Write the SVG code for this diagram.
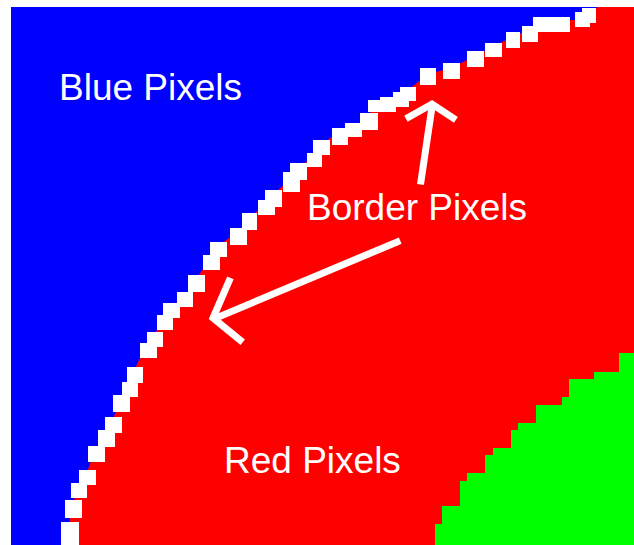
<svg xmlns="http://www.w3.org/2000/svg" width="634" height="545" viewBox="0 0 634 545">
<style>
.lbl{font-family:"Liberation Sans",Arial,sans-serif;font-size:37px;fill:#fff}
.px{fill:#fff}
.arr{stroke:#fff;stroke-width:7;fill:none;stroke-linecap:square;stroke-linejoin:miter}
</style>
<rect width="634" height="545" fill="#fff"/>
<g id="red-region"><rect x="11" y="7" width="623" height="538" fill="#ff0000"/></g>
<g id="blue-region"><path fill="#0000ff" d="M11,7 L598,7 L588,12 L575,20 L545,20 L530,30 L513,36 L493,47 L475,56 L451,68 L428,74 L408,90 L388,102 L372,110 L365,120 L350,127 L338,133 L320,145 L312,158 L297,168 L290,180 L272,195 L265,205 L248,218 L238,232 L216,247 L210,260 L195,280 L184,297 L170,308 L163,320 L153,337 L146,348 L138,362 L133,373 L128,387 L120,400 L112,422 L104,435 L95,450 L86,475 L78,488 L72,506 L68,530 L68,545 L11,545 Z"/></g>
<g id="green-region"><path fill="#00ff00" d="M634,353 L619,353 L619,372 L594,372 L594,379 L569,379 L569,397 L562,397 L562,405 L536,405 L536,423 L518,423 L518,430 L511,430 L511,448 L493,448 L493,455 L485,455 L485,473 L467,473 L467,481 L460,481 L460,506 L442,506 L442,524 L435,524 L435,545 L634,545 Z"/></g>
<g id="border-pixels">
<rect class="px" x="582" y="8" width="14" height="15"/>
<rect class="px" x="575" y="12" width="15" height="15"/>
<rect class="px" x="533" y="17" width="37" height="15"/>
<rect class="px" x="522" y="26" width="16" height="16"/>
<rect class="px" x="506" y="32" width="14" height="16"/>
<rect class="px" x="485" y="43" width="17" height="14"/>
<rect class="px" x="467" y="51" width="17" height="16"/>
<rect class="px" x="443" y="63" width="17" height="16"/>
<rect class="px" x="420" y="68" width="16" height="17"/>
<rect class="px" x="400" y="87" width="16" height="14"/>
<rect class="px" x="393" y="92" width="16" height="15"/>
<rect class="px" x="380" y="97" width="16" height="15"/>
<rect class="px" x="368" y="100" width="15" height="12"/>
<rect class="px" x="360" y="113" width="18" height="17"/>
<rect class="px" x="345" y="123" width="17" height="14"/>
<rect class="px" x="332" y="128" width="16" height="17"/>
<rect class="px" x="313" y="140" width="17" height="15"/>
<rect class="px" x="307" y="153" width="15" height="14"/>
<rect class="px" x="290" y="163" width="17" height="17"/>
<rect class="px" x="283" y="172" width="17" height="20"/>
<rect class="px" x="265" y="190" width="17" height="17"/>
<rect class="px" x="258" y="200" width="17" height="15"/>
<rect class="px" x="242" y="213" width="15" height="17"/>
<rect class="px" x="230" y="228" width="17" height="17"/>
<rect class="px" x="210" y="242" width="17" height="15"/>
<rect class="px" x="203" y="255" width="17" height="15"/>
<rect class="px" x="188" y="275" width="17" height="17"/>
<rect class="px" x="177" y="292" width="16" height="15"/>
<rect class="px" x="163" y="303" width="17" height="15"/>
<rect class="px" x="157" y="315" width="16" height="15"/>
<rect class="px" x="147" y="332" width="16" height="15"/>
<rect class="px" x="140" y="343" width="17" height="15"/>
<rect class="px" x="127" y="367" width="16" height="16"/>
<rect class="px" x="122" y="382" width="16" height="15"/>
<rect class="px" x="113" y="395" width="17" height="17"/>
<rect class="px" x="105" y="417" width="17" height="16"/>
<rect class="px" x="98" y="430" width="17" height="17"/>
<rect class="px" x="88" y="446" width="17" height="16"/>
<rect class="px" x="79" y="470" width="17" height="15"/>
<rect class="px" x="71" y="483" width="16" height="15"/>
<rect class="px" x="65" y="500" width="17" height="18"/>
<rect class="px" x="61" y="522" width="18" height="23"/>
</g>
<g id="connectors">
<path class="arr" d="M421,181 L432,107"/>
<path class="arr" d="M409,117 L432,104 L453,118"/>
<path class="arr" d="M397,242 L216,318"/>
<path class="arr" d="M229,281 L213,318 L240,340"/>
</g>
<g id="label-blue"><text class="lbl" x="59" y="100">Blue Pixels</text></g>
<g id="label-border"><text class="lbl" x="307" y="220">Border Pixels</text></g>
<g id="label-red"><text class="lbl" x="224" y="473">Red Pixels</text></g>
</svg>
